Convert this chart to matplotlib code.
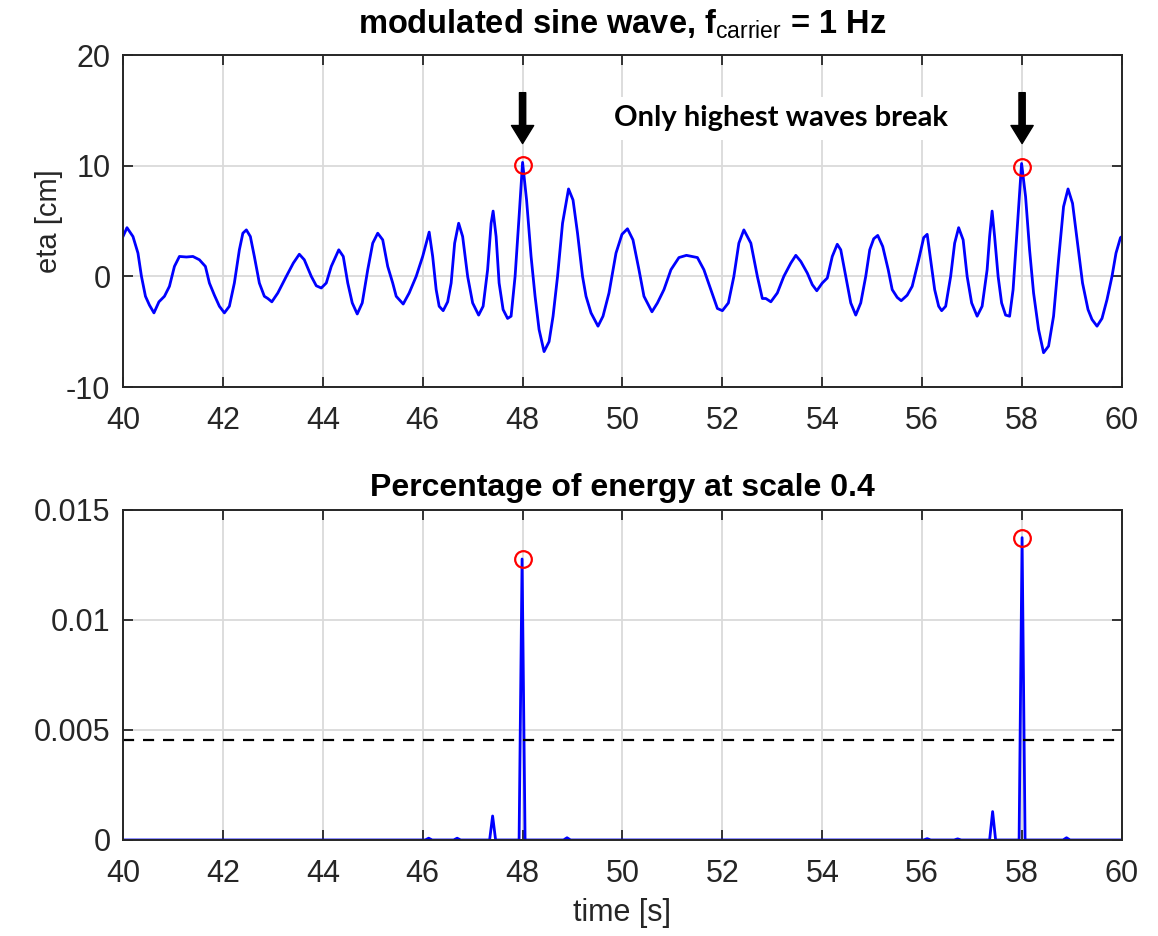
import numpy as np
import matplotlib
matplotlib.use("Agg")
import matplotlib.pyplot as plt

# ---- data ----
eta_time = [40.0, 40.08, 40.2, 40.3, 40.37, 40.45, 40.53, 40.62, 40.72, 40.83, 40.93, 41.03,
            41.13, 41.27, 41.4, 41.53, 41.65, 41.73, 41.83, 41.93, 42.03, 42.13, 42.23, 42.33,
            42.4, 42.47, 42.55, 42.63, 42.73, 42.83, 42.9, 42.98, 43.1, 43.27, 43.41, 43.53,
            43.63, 43.77, 43.87, 43.97, 44.07, 44.17, 44.32, 44.41, 44.5, 44.59, 44.69, 44.79,
            44.9, 45.0, 45.1, 45.2, 45.3, 45.4, 45.47, 45.61, 45.73, 45.87, 46.0, 46.13,
            46.2, 46.27, 46.33, 46.41, 46.5, 46.57, 46.64, 46.72, 46.8, 46.9, 47.0, 47.12,
            47.21, 47.3, 47.37, 47.41, 47.47, 47.53, 47.61, 47.7, 47.77, 47.85, 47.93, 48.0,
            48.08, 48.17, 48.25, 48.33, 48.43, 48.53, 48.61, 48.7, 48.8, 48.92, 49.01, 49.1,
            49.2, 49.27, 49.37, 49.51, 49.61, 49.73, 49.87, 49.99, 50.1, 50.21, 50.33, 50.43,
            50.59, 50.7, 50.83, 50.97, 51.13, 51.28, 51.5, 51.63, 51.77, 51.9, 52.0, 52.12,
            52.23, 52.33, 52.43, 52.57, 52.7, 52.8, 52.87, 52.97, 53.1, 53.23, 53.37, 53.47,
            53.57, 53.7, 53.8, 53.89, 54.0, 54.1, 54.2, 54.3, 54.37, 54.47, 54.57, 54.67,
            54.77, 54.87, 54.95, 55.03, 55.11, 55.21, 55.32, 55.4, 55.5, 55.58, 55.7, 55.8,
            55.93, 56.03, 56.1, 56.17, 56.25, 56.33, 56.39, 56.47, 56.57, 56.65, 56.73, 56.82,
            56.9, 56.99, 57.1, 57.2, 57.3, 57.35, 57.4, 57.45, 57.52, 57.59, 57.67, 57.75,
            57.82, 57.9, 57.99, 58.07, 58.15, 58.23, 58.33, 58.43, 58.53, 58.63, 58.73, 58.83,
            58.92, 59.01, 59.11, 59.21, 59.32, 59.4, 59.5, 59.6, 59.7, 59.8, 59.88, 59.97,
            60.0]
eta_cm = [3.6, 4.4, 3.6, 2.1, 0.0, -1.8, -2.6, -3.3, -2.3, -1.8, -0.9, 0.9,
          1.8, 1.75, 1.8, 1.5, 0.9, -0.6, -1.7, -2.7, -3.3, -2.7, -0.6, 2.4,
          3.9, 4.2, 3.6, 1.8, -0.6, -1.8, -2.0, -2.3, -1.5, 0.0, 1.2, 2.0,
          1.5, 0.0, -0.85, -1.05, -0.6, 0.9, 2.4, 1.8, -0.6, -2.4, -3.4, -2.4,
          0.6, 3.0, 3.9, 3.3, 0.9, -0.6, -1.8, -2.5, -1.5, 0.0, 1.8, 4.0,
          1.8, -1.2, -2.7, -3.1, -2.3, -0.6, 3.0, 4.8, 3.6, 0.0, -2.4, -3.5,
          -2.7, 0.6, 4.8, 5.9, 3.6, -0.6, -3.0, -3.8, -3.6, 0.0, 5.4, 10.3,
          6.9, 1.8, -1.8, -4.8, -6.8, -5.9, -3.6, 0.0, 4.8, 7.9, 6.9, 3.9,
          0.0, -1.8, -3.3, -4.5, -3.6, -1.5, 2.1, 3.8, 4.3, 3.3, 0.6, -1.8,
          -3.2, -2.4, -1.2, 0.6, 1.7, 1.9, 1.7, 0.6, -1.2, -2.9, -3.1, -2.4,
          0.0, 3.0, 4.2, 3.0, 0.0, -2.0, -2.0, -2.3, -1.5, 0.0, 1.2, 1.9,
          1.35, 0.3, -0.75, -1.3, -0.6, -0.15, 1.8, 2.9, 2.4, 0.0, -2.4, -3.5,
          -2.4, 0.0, 2.4, 3.4, 3.7, 2.7, 0.6, -1.2, -1.9, -2.2, -1.7, -0.9,
          1.5, 3.5, 3.8, 1.5, -1.2, -2.7, -3.1, -2.7, 0.0, 3.0, 4.4, 3.3,
          0.0, -2.4, -3.6, -2.7, 0.6, 3.6, 5.9, 3.6, 0.0, -2.4, -3.5, -3.6,
          -1.2, 4.2, 10.2, 7.2, 2.4, -1.5, -4.8, -6.9, -6.3, -3.6, 1.5, 6.3,
          7.9, 6.6, 3.0, -0.6, -3.0, -3.9, -4.5, -3.8, -2.1, 0.0, 2.1, 3.5,
          3.6]

pct_time = [40.0, 46.05, 46.12, 46.19, 46.62, 46.69, 46.76, 47.34, 47.4, 47.46,
            47.93, 47.99, 48.05, 48.82, 48.89, 48.96, 56.03, 56.1, 56.17,
            56.64, 56.71, 56.78, 57.35, 57.41, 57.47, 57.94, 58.0, 58.06,
            58.82, 58.89, 58.96, 60.0]
pct_value = [0, 0, 0.00008, 0, 0, 0.00008, 0, 0, 0.00109, 0,
             0, 0.01277, 0, 0, 0.0001, 0, 0, 0.00006, 0,
             0, 0.00005, 0, 0, 0.00129, 0, 0, 0.01374, 0,
             0, 0.0001, 0, 0]

break_time = [48.0, 58.0]
break_eta = [10.1, 9.9]
break_pct = [0.01277, 0.01374]
threshold = 0.004545

plt.rcParams['font.family'] = ['Liberation Sans', 'DejaVu Sans']
plt.rcParams['axes.unicode_minus'] = False
plt.rcParams['mathtext.fontset'] = 'custom'
plt.rcParams['mathtext.rm'] = 'Liberation Sans'
plt.rcParams['mathtext.bf'] = 'Liberation Sans:bold'

fig = plt.figure(figsize=(11.58, 9.36), dpi=100)
ax1 = fig.add_axes([0.1062, 0.5865, 0.8627, 0.3547])
ax2 = fig.add_axes([0.1062, 0.1026, 0.8627, 0.3526])

grey = '#262626'
for ax in (ax1, ax2):
    ax.grid(True, color='#dadada', linewidth=1.3)
    ax.set_axisbelow(True)
    ax.tick_params(direction='in', length=7, width=1.3, colors=grey, labelsize=22,
                   top=True, right=True)
    ax.tick_params(axis='x', pad=14)
    ax.tick_params(axis='y', pad=9)
    for s in ax.spines.values():
        s.set_color(grey)
        s.set_linewidth(1.4)
    ax.set_xlim(40, 60)
    ax.set_xticks(np.arange(40, 61, 2))

# top panel
ax1.plot(eta_time, eta_cm, color='blue', linewidth=2.0)
ax1.plot(break_time, break_eta, 'o', mfc='none', mec='red', ms=12, mew=1.6)
ax1.set_ylim(-10, 20)
ax1.set_yticks([-10, 0, 10, 20])
ax1.set_ylabel('eta [cm]', fontsize=21, color=grey, labelpad=2)
ax1.set_title(r'modulated sine wave, f$_{\mathrm{carrier}}$ = 1 Hz',
              fontsize=23.5, fontweight='bold', pad=16)
for t in break_time:
    ax1.annotate('', xy=(t, 12.0), xytext=(t, 16.6),
                 arrowprops=dict(facecolor='black', edgecolor='black',
                                 width=4.5, headwidth=16, headlength=13, shrink=0))
ax1.text(49.84, 14.3, 'Only highest waves break', family=['Lato', 'DejaVu Sans'],
         fontsize=21, fontweight='bold', ha='left', va='center',
         bbox=dict(facecolor='white', edgecolor='none', pad=6))

# bottom panel
ax2.plot(pct_time, pct_value, color='blue', linewidth=2.0)
ax2.plot(break_time, break_pct, 'o', mfc='none', mec='red', ms=12, mew=1.6)
ax2.axhline(threshold, color='black', linestyle='--', linewidth=1.6, dashes=(5, 4))
ax2.set_ylim(0, 0.015)
ax2.set_yticks([0, 0.005, 0.01, 0.015])
ax2.set_yticklabels(['0', '0.005', '0.01', '0.015'])
ax2.set_xlabel('time [s]', fontsize=22, color=grey, labelpad=6)
ax2.set_title('Percentage of energy at scale 0.4', fontsize=23, fontweight='bold', pad=10)

fig.savefig('out.png', dpi=100)
